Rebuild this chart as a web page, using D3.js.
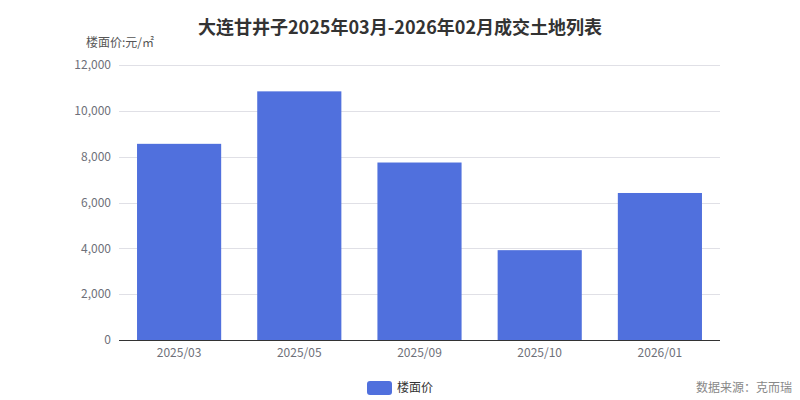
<!DOCTYPE html>
<html><head><meta charset="utf-8">
<script src="https://cdn.jsdelivr.net/npm/d3@7"></script>
<style>body{margin:0;background:#fff;font-family:"Noto Sans CJK SC","Noto Sans",sans-serif;}</style>
</head><body><svg id="c" width="800" height="400"></svg>
<script>
const categories = ["2025/03","2025/05","2025/09","2025/10","2026/01"];
const values = [8560, 10850, 7745, 3920, 6415];
const yTicks = [0,2000,4000,6000,8000,10000,12000];
const title = "大连甘井子2025年03月-2026年02月成交土地列表";
const yName = "楼面价:元/㎡";
const seriesName = "楼面价";
const source = "数据来源：克而瑞";

const svg = d3.select("#c");
const m = {l:119, r:720, t:65, b:340};
const x = d3.scaleBand().domain(categories).range([m.l, m.r]).paddingInner(0.3).paddingOuter(0.15);
const y = d3.scaleLinear().domain([0,12000]).range([m.b, m.t]);
const font = '"Noto Sans CJK SC","Noto Sans",sans-serif';

svg.append("text").attr("x",400).attr("y",34).attr("text-anchor","middle")
  .attr("font-size",18).attr("font-weight","bold").attr("fill","#333").attr("font-family",font).text(title);

// grid
svg.append("g").selectAll("line").data(yTicks.filter(d=>d>0)).join("line")
  .attr("x1",m.l).attr("x2",m.r).attr("y1",d=>Math.round(y(d))+0.5).attr("y2",d=>Math.round(y(d))+0.5)
  .attr("stroke","#e0e0e6").attr("stroke-width",1);

svg.append("g").selectAll("text").data(yTicks).join("text")
  .attr("x",m.l-8).attr("y",d=>y(d)).attr("dy","0.35em").attr("text-anchor","end")
  .attr("font-size",12).attr("fill","#6e7079").attr("font-family",font).text(d3.format(",")) ;

svg.append("text").attr("x",120).attr("y",47).attr("text-anchor","middle")
  .attr("font-size",12).attr("fill","#555").attr("font-family",font).text(yName);

// bars
svg.append("g").selectAll("rect").data(values).join("rect")
  .attr("x",(d,i)=>x(categories[i])).attr("width",x.bandwidth())
  .attr("y",d=>y(d)).attr("height",d=>y(0)-y(d)).attr("fill","#5070dd");

// x axis
svg.append("line").attr("x1",m.l).attr("x2",m.r).attr("y1",m.b+0.5).attr("y2",m.b+0.5).attr("stroke","#333");
svg.append("g").selectAll("text").data(categories).join("text")
  .attr("x",d=>x(d)+x.bandwidth()/2).attr("y",m.b+17).attr("text-anchor","middle")
  .attr("font-size",12).attr("fill","#6e7079").attr("font-family",font).text(d=>d);

// legend
svg.append("rect").attr("x",367).attr("y",381).attr("width",25).attr("height",14).attr("rx",3).attr("fill","#5070dd");
svg.append("text").attr("x",397).attr("y",388).attr("dy","0.35em").attr("font-size",12).attr("fill","#333").attr("font-family",font).text(seriesName);

svg.append("text").attr("x",792).attr("y",388).attr("dy","0.35em").attr("text-anchor","end").attr("font-size",12).attr("fill","#888").attr("font-family",font).text(source);
</script></body></html>
